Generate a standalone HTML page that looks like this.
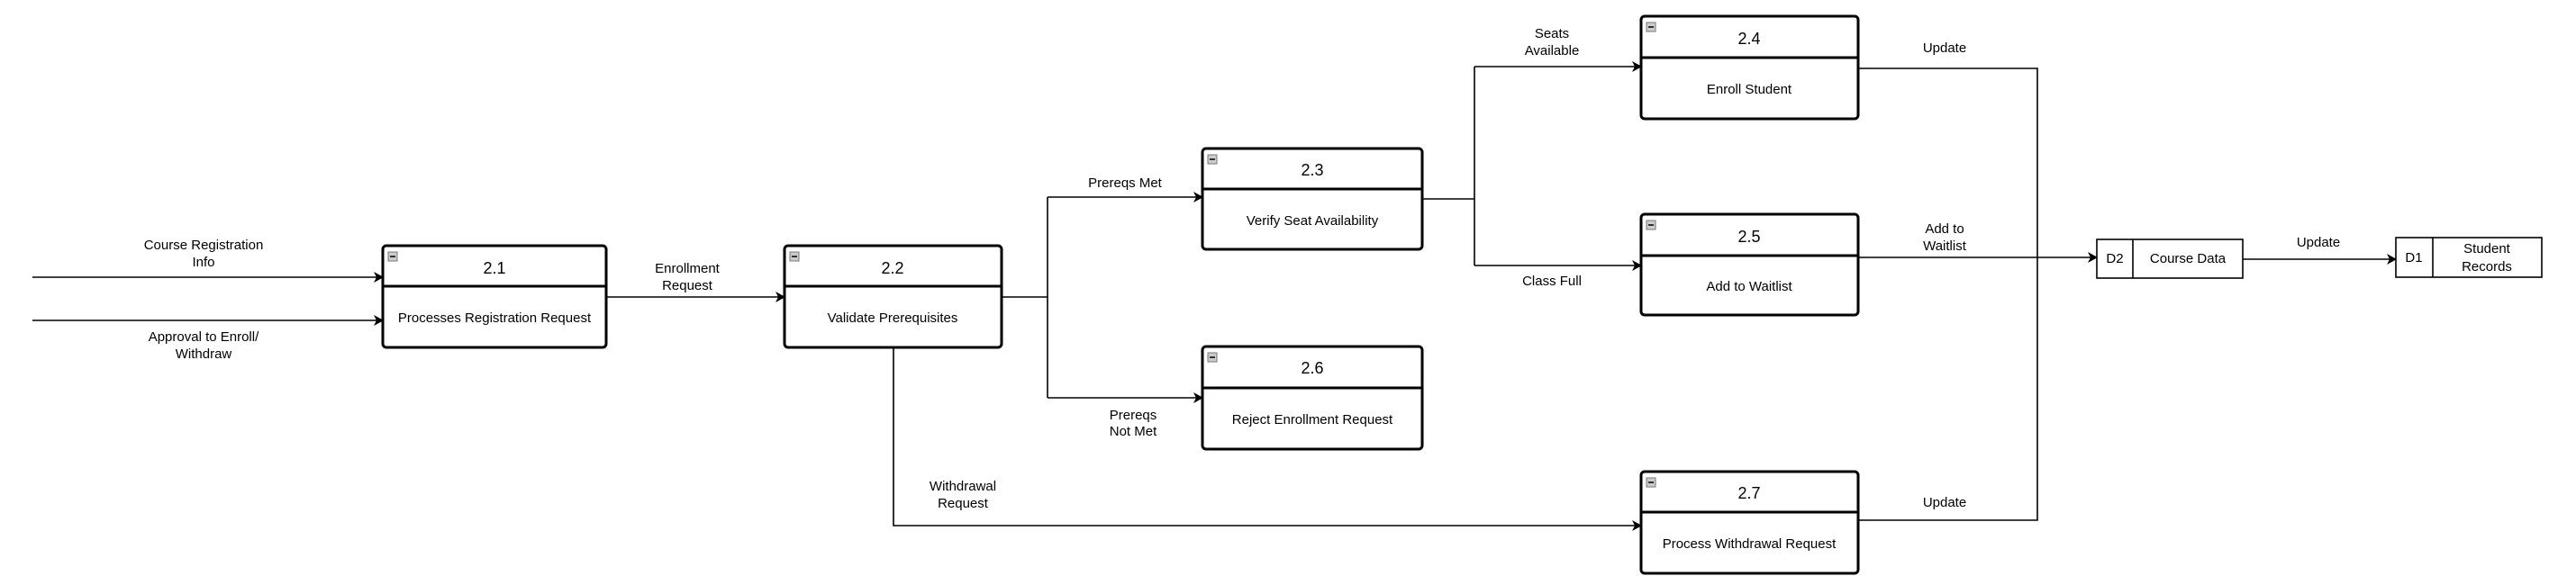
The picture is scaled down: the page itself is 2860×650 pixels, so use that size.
<!DOCTYPE html>
<html><head><meta charset="utf-8"><style>
html,body{margin:0;padding:0;background:#fff;}
svg{display:block;font-family:"Liberation Sans",Arial,sans-serif;}
</style></head><body>
<svg width="2860" height="650" viewBox="0 0 2860 650" xmlns="http://www.w3.org/2000/svg">
<defs>
<marker id="a" markerWidth="12" markerHeight="12" refX="10" refY="6" orient="auto" markerUnits="userSpaceOnUse">
<path d="M0,0 L11,6 L0,12 L3,6 Z" fill="#000"/>
</marker>
<g id="ic"><rect x="0" y="0" width="10" height="10" fill="#ccc" stroke="#777" stroke-width="1"/><line x1="2" y1="5" x2="8" y2="5" stroke="#000" stroke-width="1.5"/></g>
</defs>
<g fill="none" stroke="#000" stroke-width="1.6">
<line x1="36" y1="308" x2="425" y2="308" marker-end="url(#a)"/>
<line x1="36" y1="356" x2="425" y2="356" marker-end="url(#a)"/>
<line x1="673" y1="330" x2="871" y2="330" marker-end="url(#a)"/>
<polyline points="1112,330 1163,330"/>
<line x1="1163" y1="219" x2="1163" y2="442"/>
<line x1="1163" y1="219" x2="1335" y2="219" marker-end="url(#a)"/>
<line x1="1163" y1="442" x2="1335" y2="442" marker-end="url(#a)"/>
<polyline points="992,386 992,584 1822,584" marker-end="url(#a)"/>
<line x1="1579" y1="221" x2="1637" y2="221"/>
<line x1="1637" y1="74" x2="1637" y2="295"/>
<line x1="1637" y1="74" x2="1822" y2="74" marker-end="url(#a)"/>
<line x1="1637" y1="295" x2="1822" y2="295" marker-end="url(#a)"/>
<polyline points="2063,76 2262,76 2262,578 2063,578"/>
<line x1="2063" y1="286" x2="2328" y2="286" marker-end="url(#a)"/>
<line x1="2490" y1="288" x2="2660" y2="288" marker-end="url(#a)"/>
</g>
<g fill="#fff" stroke="#000" stroke-width="3">
<rect x="425" y="273" width="248" height="113" rx="4"/>
<rect x="871" y="273" width="241" height="113" rx="4"/>
<rect x="1335" y="165" width="244" height="112" rx="4"/>
<rect x="1335" y="385" width="244" height="114" rx="4"/>
<rect x="1822" y="18" width="241" height="114" rx="4"/>
<rect x="1822" y="238" width="241" height="112" rx="4"/>
<rect x="1822" y="524" width="241" height="113" rx="4"/>
<line x1="425" y1="318" x2="673" y2="318"/>
<line x1="871" y1="318" x2="1112" y2="318"/>
<line x1="1335" y1="210" x2="1579" y2="210"/>
<line x1="1335" y1="431" x2="1579" y2="431"/>
<line x1="1822" y1="64" x2="2063" y2="64"/>
<line x1="1822" y1="284" x2="2063" y2="284"/>
<line x1="1822" y1="569" x2="2063" y2="569"/>
</g>
<use href="#ic" x="431" y="280"/><use href="#ic" x="877" y="280"/>
<use href="#ic" x="1341" y="172"/><use href="#ic" x="1341" y="392"/>
<use href="#ic" x="1828" y="25"/><use href="#ic" x="1828" y="245"/><use href="#ic" x="1828" y="531"/>
<g fill="#fff" stroke="#000" stroke-width="1.6">
<rect x="2328" y="266" width="162" height="43"/><line x1="2368" y1="266" x2="2368" y2="309"/>
<rect x="2660" y="264" width="162" height="44"/><line x1="2701" y1="264" x2="2701" y2="308"/>
</g>
<g fill="#000" text-anchor="middle" font-size="18">
<text x="549" y="304">2.1</text><text x="991" y="304">2.2</text>
<text x="1457" y="195">2.3</text><text x="1457" y="415">2.6</text>
<text x="1942" y="49">2.4</text><text x="1942" y="269">2.5</text><text x="1942" y="554">2.7</text>
</g>
<g fill="#000" text-anchor="middle" font-size="15">
<text x="549" y="358">Processes Registration Request</text>
<text x="991" y="358">Validate Prerequisites</text>
<text x="1457" y="250">Verify Seat Availability</text>
<text x="1457" y="471">Reject Enrollment Request</text>
<text x="1942" y="104">Enroll Student</text>
<text x="1942" y="323">Add to Waitlist</text>
<text x="1942" y="609">Process Withdrawal Request</text>
<text x="226" y="277">Course Registration</text><text x="226" y="296">Info</text>
<text x="226" y="379">Approval to Enroll/</text><text x="226" y="398">Withdraw</text>
<text x="763" y="303">Enrollment</text><text x="763" y="322">Request</text>
<text x="1249" y="208">Prereqs Met</text>
<text x="1258" y="466">Prereqs</text><text x="1258" y="484">Not Met</text>
<text x="1069" y="545">Withdrawal</text><text x="1069" y="564">Request</text>
<text x="1723" y="42">Seats</text><text x="1723" y="61">Available</text>
<text x="1723" y="317">Class Full</text>
<text x="2159" y="58">Update</text>
<text x="2159" y="259">Add to</text><text x="2159" y="278">Waitlist</text>
<text x="2159" y="563">Update</text>
<text x="2574" y="274">Update</text>
<text x="2348" y="292">D2</text><text x="2429" y="292">Course Data</text>
<text x="2680" y="291">D1</text><text x="2761" y="281">Student</text><text x="2761" y="301">Records</text>
</g>
</svg>
</body></html>
